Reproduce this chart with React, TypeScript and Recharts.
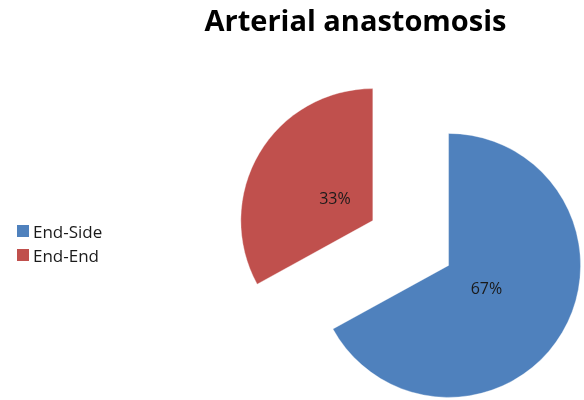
import React from "react";
import { PieChart, Pie, Cell, Sector } from "recharts";

const categories = ["End-Side", "End-End"];
const values = [67, 33];
const colors = ["#4F81BD", "#C0504D"];

const data = categories.map((name, i) => ({ name, value: values[i] }));

const RAD = Math.PI / 180;
const EXPLODE = 44;

const renderExploded = (props: any) => {
  const { cx, cy, midAngle, outerRadius, startAngle, endAngle, percent, index } = props;
  const dx = EXPLODE * Math.cos(-midAngle * RAD);
  const dy = EXPLODE * Math.sin(-midAngle * RAD);
  const ncx = cx + dx;
  const ncy = cy + dy;
  const lr = 44;
  const lx = ncx + lr * Math.cos(-midAngle * RAD);
  const ly = ncy + lr * Math.sin(-midAngle * RAD);
  return (
    <g key={`ex-${index}`}>
      <Sector
        cx={ncx}
        cy={ncy}
        innerRadius={0}
        outerRadius={outerRadius}
        startAngle={startAngle}
        endAngle={endAngle}
        fill={colors[index % colors.length]}
        stroke="rgba(255,255,255,0.35)"
        strokeWidth={1}
      />
      <text
        x={lx}
        y={ly}
        textAnchor="middle"
        dominantBaseline="central"
        fill="#1a1a1a"
        fontSize={16}
        fontFamily="'Open Sans', sans-serif"
      >
        {`${Math.round(percent * 100)}%`}
      </text>
    </g>
  );
};

export default function App() {
  return (
    <div style={{ position: "fixed", left: 0, top: 0, width: 584, height: 400, background: "#fff" }}>
      <div
        style={{
          position: "absolute",
          left: 0,
          width: 711,
          top: 0,
          textAlign: "center",
          fontFamily: "'Open Sans', sans-serif",
          fontWeight: 700,
          fontSize: 29,
          color: "#000",
        }}
      >
        Arterial anastomosis
      </div>
      <PieChart width={584} height={400} margin={{ top: 0, right: 0, bottom: 0, left: 0 }}>
        <Pie
          data={data}
          dataKey="value"
          nameKey="name"
          cx={410.7}
          cy={243}
          outerRadius={132}
          startAngle={90}
          endAngle={-270}
          isAnimationActive={false}
          label={renderExploded}
          labelLine={false}
          stroke="none"
        >
          {data.map((d) => (
            <Cell key={d.name} fill="transparent" />
          ))}
        </Pie>
      </PieChart>
      <div
        style={{
          position: "absolute",
          left: 17,
          top: 219,
          fontFamily: "'Open Sans', sans-serif",
          fontSize: 17,
          color: "#1a1a1a",
        }}
      >
        {categories.map((c, i) => (
          <div key={c} style={{ display: "flex", alignItems: "center", height: 24 }}>
            <span
              style={{
                display: "inline-block",
                width: 12,
                height: 12,
                background: colors[i],
                marginRight: 4,
              }}
            />
            <span>{c}</span>
          </div>
        ))}
      </div>
    </div>
  );
}
